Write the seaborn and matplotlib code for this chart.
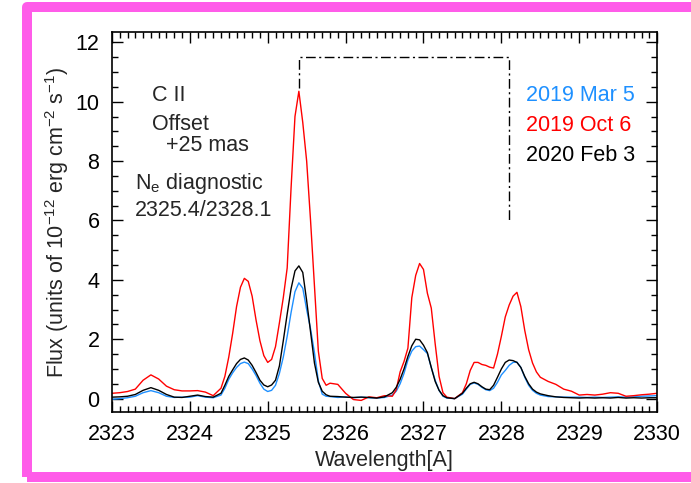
import numpy as np
import pandas as pd
import seaborn as sns
import matplotlib.pyplot as plt
from matplotlib.patches import Rectangle
from matplotlib.ticker import MultipleLocator

# wavelength grid [A]
wave = [2323.00, 2323.10, 2323.20, 2323.30, 2323.40, 2323.50, 2323.60, 2323.70, 2323.80, 2323.90,
        2324.00, 2324.10, 2324.20, 2324.30, 2324.40, 2324.45, 2324.50, 2324.55, 2324.60, 2324.65,
        2324.70, 2324.75, 2324.80, 2324.85, 2324.90, 2324.95, 2325.00, 2325.05, 2325.10, 2325.15,
        2325.20, 2325.25, 2325.30, 2325.35, 2325.40, 2325.45, 2325.50, 2325.55, 2325.60, 2325.65,
        2325.70, 2325.75, 2325.80, 2325.90, 2326.00, 2326.10, 2326.20, 2326.30, 2326.40, 2326.50,
        2326.60, 2326.65, 2326.70, 2326.75, 2326.80, 2326.85, 2326.90, 2326.95, 2327.00, 2327.05,
        2327.10, 2327.15, 2327.20, 2327.25, 2327.30, 2327.40, 2327.50, 2327.55, 2327.60, 2327.65,
        2327.70, 2327.75, 2327.80, 2327.85, 2327.90, 2327.95, 2328.00, 2328.05, 2328.10, 2328.15,
        2328.20, 2328.25, 2328.30, 2328.35, 2328.40, 2328.45, 2328.50, 2328.60, 2328.70, 2328.80,
        2328.90, 2329.00, 2329.10, 2329.20, 2329.30, 2329.40, 2329.50, 2329.60, 2329.70, 2329.80,
        2329.90, 2330.00]

# 2019 Mar 5
flux_mar = [-0.02, 0.00, 0.03, 0.08, 0.20, 0.27, 0.20, 0.08, 0.04, 0.05,
            0.05, 0.10, 0.05, 0.03, 0.12, 0.35, 0.65, 0.87, 1.05, 1.18,
            1.23, 1.18, 1.00, 0.78, 0.52, 0.32, 0.24, 0.28, 0.45, 0.85,
            1.40, 2.10, 2.90, 3.60, 3.90, 3.72, 3.00, 2.35, 1.55, 0.60,
            0.15, 0.08, 0.07, 0.04, 0.06, 0.03, 0.05, 0.03, 0.02, 0.04,
            0.12, 0.25, 0.50, 0.85, 1.30, 1.60, 1.75, 1.77, 1.65, 1.52,
            1.05, 0.62, 0.28, 0.08, 0.02, 0.00, 0.15, 0.32, 0.48, 0.53,
            0.48, 0.38, 0.30, 0.27, 0.35, 0.55, 0.80, 0.95, 1.12, 1.22,
            1.23, 1.05, 0.72, 0.45, 0.28, 0.18, 0.12, 0.07, 0.06, 0.05,
            0.05, 0.05, 0.04, 0.05, 0.04, 0.05, 0.06, 0.05, 0.06, 0.08,
            0.09, 0.10]

# 2019 Oct 6
flux_oct = [0.18, 0.20, 0.24, 0.32, 0.62, 0.80, 0.66, 0.42, 0.30, 0.26,
            0.26, 0.27, 0.22, 0.10, 0.35, 0.75, 1.40, 2.20, 3.10, 3.75,
            4.05, 3.95, 3.45, 2.65, 1.95, 1.45, 1.22, 1.32, 1.75, 2.55,
            3.40, 4.40, 7.10, 9.50, 10.35, 9.30, 8.00, 6.00, 3.80, 1.60,
            0.68, 0.45, 0.52, 0.48, 0.18, -0.03, -0.06, 0.06, 0.03, 0.10,
            0.08, 0.30, 0.90, 1.25, 1.70, 3.40, 4.15, 4.55, 4.35, 3.55,
            3.05, 1.85, 0.75, 0.20, 0.05, 0.00, 0.20, 0.50, 0.95, 1.22,
            1.22, 1.15, 1.12, 1.06, 1.03, 1.50, 2.10, 2.75, 3.15, 3.45,
            3.58, 3.10, 2.30, 1.65, 1.20, 0.90, 0.72, 0.58, 0.48, 0.32,
            0.25, 0.12, 0.14, 0.12, 0.15, 0.20, 0.18, 0.08, 0.10, 0.13,
            0.15, 0.18]

# 2020 Feb 3
flux_feb = [0.05, 0.06, 0.08, 0.14, 0.28, 0.37, 0.28, 0.14, 0.05, 0.04,
            0.08, 0.12, 0.07, 0.05, 0.18, 0.45, 0.75, 0.97, 1.18, 1.32,
            1.37, 1.30, 1.12, 0.88, 0.62, 0.46, 0.40, 0.46, 0.62, 1.10,
            1.95, 2.85, 3.70, 4.30, 4.47, 4.25, 3.30, 2.25, 1.20, 0.55,
            0.25, 0.13, 0.08, 0.07, 0.05, 0.04, 0.05, 0.04, 0.02, 0.06,
            0.20, 0.38, 0.65, 1.00, 1.42, 1.78, 2.00, 1.98, 1.80, 1.55,
            1.05, 0.58, 0.28, 0.10, 0.03, 0.00, 0.18, 0.35, 0.50, 0.55,
            0.50, 0.40, 0.32, 0.30, 0.45, 0.72, 1.00, 1.22, 1.30, 1.28,
            1.22, 1.05, 0.75, 0.50, 0.32, 0.22, 0.16, 0.10, 0.06, 0.04,
            0.03, 0.02, 0.03, 0.02, 0.03, 0.02, 0.04, 0.02, 0.03, 0.02,
            0.03, 0.03]

dates = ['2019 Mar 5', '2019 Oct 6', '2020 Feb 3']
colors = ['#1e90ff', '#ff0000', '#000000']

# N_e diagnostic line pair
bracket_x = [2325.4, 2325.4, 2328.1, 2328.1]
bracket_y = [10.45, 11.5, 11.5, 6.0]

df = pd.concat([pd.DataFrame({'wave': wave, 'flux': f, 'date': d})
                for f, d in zip([flux_mar, flux_oct, flux_feb], dates)])

sns.set_style('ticks')
plt.rcParams['font.family'] = ['Liberation Sans', 'DejaVu Sans']
plt.rcParams['mathtext.fontset'] = 'custom'
plt.rcParams['mathtext.rm'] = 'Liberation Sans'
plt.rcParams['mathtext.it'] = 'Liberation Sans:italic'
plt.rcParams['mathtext.bf'] = 'Liberation Sans:bold'

fig = plt.figure(figsize=(6.91, 4.83), dpi=100)
ax = fig.add_axes([0.162, 0.147, 0.789, 0.787])

sns.lineplot(data=df, x='wave', y='flux', hue='date', hue_order=dates,
             palette=colors, estimator=None, sort=False, legend=False,
             lw=1.0, ax=ax)
ax.plot(bracket_x, bracket_y, color='k', ls=(0, (7, 2.5, 1.5, 2.5)), lw=1.0)

ax.set_xlim(2323, 2330)
ax.set_ylim(-0.45, 12.35)
ax.xaxis.set_major_locator(MultipleLocator(1))
ax.xaxis.set_minor_locator(MultipleLocator(0.1))
ax.yaxis.set_major_locator(MultipleLocator(2))
ax.yaxis.set_minor_locator(MultipleLocator(0.5))
ax.tick_params(which='both', direction='in', top=True, right=True,
               labelsize=15.5, colors='k', width=1.0)
ax.tick_params(which='major', length=8, pad=9)
ax.tick_params(which='minor', length=4)
for s in ax.spines.values():
    s.set_linewidth(1.2)
    s.set_color('k')

ax.set_xlabel('Wavelength[A]', fontsize=15.5, labelpad=3)
ax.set_ylabel(r'Flux (units of 10$^{-12}$ erg cm$^{-2}$ s$^{-1}$)', fontsize=15.5, labelpad=3)

ax.text(2323.51, 10.2, 'C II', fontsize=15.5, va='center')
ax.text(2323.51, 9.22, 'Offset', fontsize=15.5, va='center')
ax.text(2323.70, 8.52, '+25 mas', fontsize=15.5, va='center')
ax.text(2323.29, 7.23, r'N$_\mathrm{e}$ diagnostic', fontsize=15.5, va='center')
ax.text(2323.29, 6.33, '2325.4/2328.1', fontsize=15.5, va='center')

for i, (d, c) in enumerate(zip(dates, colors)):
    ax.text(2328.32, 10.2 - i * 1.0, d, color=c, fontsize=15.5, va='center')

# magenta frame around the figure
fig.patches.append(Rectangle((27 / 691, 1 - 477 / 483), 2.0, 470 / 483,
                             transform=fig.transFigure, fill=False,
                             edgecolor='#ff5ce9', lw=7.2, joinstyle='round',
                             clip_on=False))

plt.savefig('out.png', dpi=100)
